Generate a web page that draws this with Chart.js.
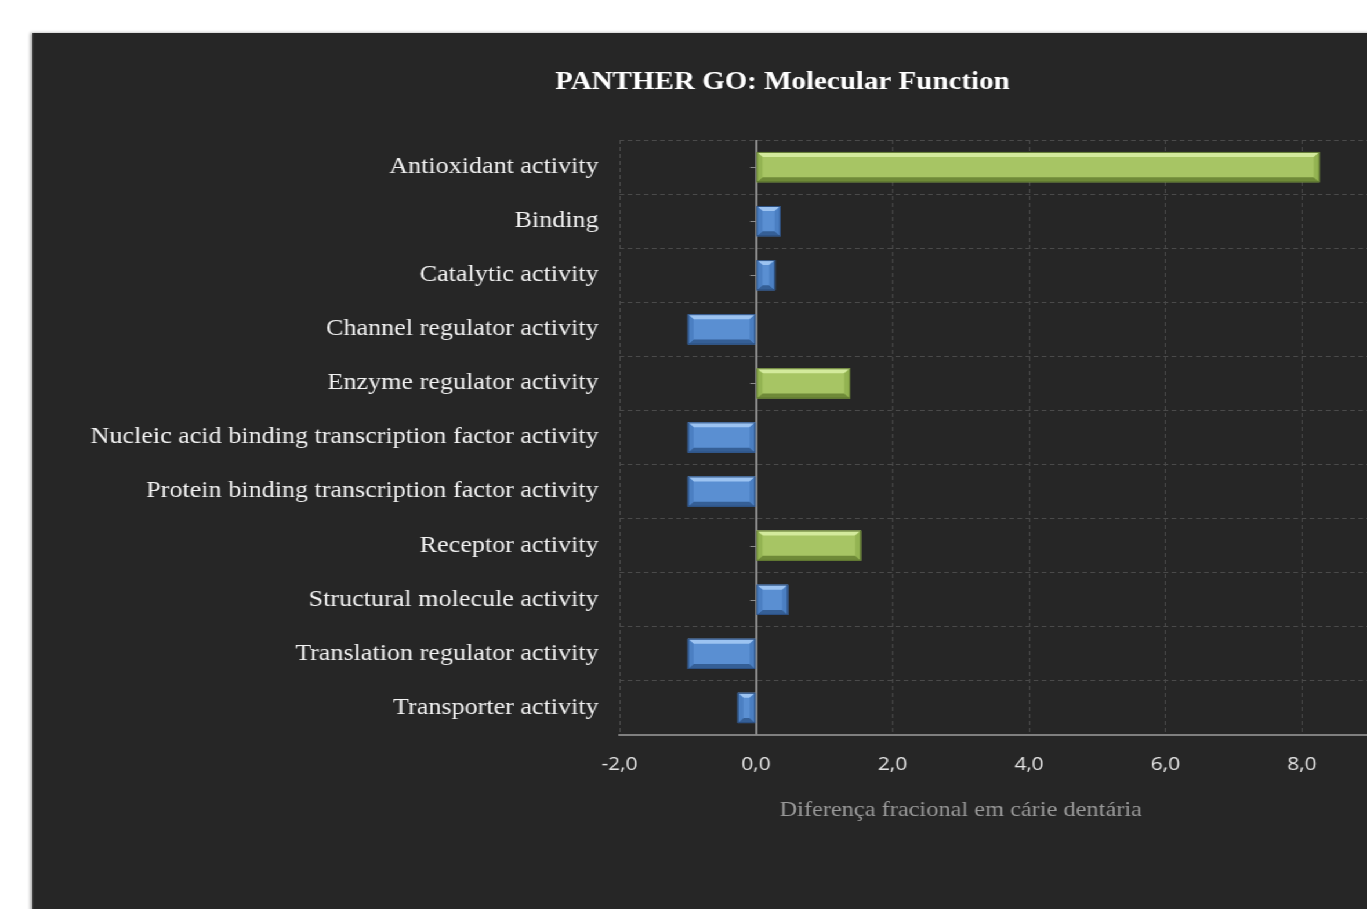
<!DOCTYPE html>
<html>
<head>
<meta charset="utf-8">
<title>PANTHER GO: Molecular Function</title>
<script src="https://cdn.jsdelivr.net/npm/chart.js@4"></script>
<style>
  html, body { margin: 0; padding: 0; background: #fff; overflow: hidden; width: 1367px; height: 909px; }
  /* the source picture is a horizontally stretched screenshot */
  #stage { position: absolute; left: 0; top: 0; transform: scaleX(1.16); transform-origin: 0 0; }
  #panel {
    position: absolute; left: 28.45px; top: 33px;
    width: 1300px; height: 900px;
    background: #262626;
    box-shadow: -2px 0 3px rgba(0,0,0,0.35);
  }
  #chart { display: block; }
</style>
</head>
<body>
<div id="stage"><div id="panel"><canvas id="chart" width="1300" height="876"></canvas></div></div>
<script>
// ── Data ──────────────────────────────────────────────────────────────
const categories = [
  'Antioxidant activity',
  'Binding',
  'Catalytic activity',
  'Channel regulator activity',
  'Enzyme regulator activity',
  'Nucleic acid binding transcription factor activity',
  'Protein binding transcription factor activity',
  'Receptor activity',
  'Structural molecule activity',
  'Translation regulator activity',
  'Transporter activity',
];
const values   = [8.26, 0.36, 0.28, -1.0, 1.38, -1.0, -1.0, 1.54, 0.47, -1.0, -0.27];
const enriched = [true, false, false, false, true, false, false, true, false, false, false];
const xTicks   = [-2, 0, 2, 4, 6, 8, 10];

const chartTitle = 'PANTHER GO: Molecular Function';
const axisTitle  = 'Diferença fracional em cárie dentária';

// ── Styles ────────────────────────────────────────────────────────────
const green = { face: '#a7c564', top: '#d3ea9c', side: '#93b352', bottom: '#6f8a38', edge: '#5d7530' };
const blue  = { face: '#5a8fd2', top: '#9cc3f1', side: '#4b7fc2', bottom: '#355f96', edge: '#2c4f80' };
const serif = '"Liberation Serif", "Times New Roman", serif';
const gridCol = '#4a4a4a';

const fmt = v => v.toFixed(1).replace('.', ',');

// long category labels overrun the padded y-axis box: widen its clip area to the canvas edge
const labelRoomPlugin = {
  id: 'labelRoom',
  afterLayout(chart) {
    const ys = chart.scales.y;
    ys.left = 0;
  }
};

// Excel-style bevel drawn over each bar, using the bar element geometry
const bevelPlugin = {
  id: 'bevel',
  afterDatasetsDraw(chart) {
    const ctx = chart.ctx;
    const meta = chart.getDatasetMeta(0);
    const zero = chart.scales.x.getPixelForValue(0);
    ctx.save();
    // small tick marks on the zero axis
    ctx.strokeStyle = '#8c8c8c';
    ctx.lineWidth = 1;
    meta.data.forEach(bar => {
      ctx.beginPath();
      ctx.moveTo(zero - 5, Math.round(bar.y) + 0.5);
      ctx.lineTo(zero, Math.round(bar.y) + 0.5);
      ctx.stroke();
    });
    meta.data.forEach((bar, i) => {
      const c = enriched[i] ? green : blue;
      const l = Math.min(bar.x, bar.base), r = Math.max(bar.x, bar.base);
      const t = bar.y - bar.height / 2, b = bar.y + bar.height / 2;
      const bv = Math.min(5, (r - l) / 2, (b - t) / 2);
      const poly = (pts, fill) => {
        ctx.beginPath();
        ctx.moveTo(pts[0][0], pts[0][1]);
        pts.slice(1).forEach(p => ctx.lineTo(p[0], p[1]));
        ctx.closePath();
        ctx.fillStyle = fill;
        ctx.fill();
      };
      poly([[l, t], [r, t], [r - bv, t + bv], [l + bv, t + bv]], c.top);
      poly([[l, b], [r, b], [r - bv, b - bv], [l + bv, b - bv]], c.bottom);
      poly([[l, t], [l + bv, t + bv], [l + bv, b - bv], [l, b]], c.side);
      poly([[r, t], [r - bv, t + bv], [r - bv, b - bv], [r, b]], c.side);
      ctx.strokeStyle = c.edge;
      ctx.lineWidth = 1;
      ctx.strokeRect(l + 0.5, t + 0.5, r - l - 1, b - t - 1);
    });
    ctx.restore();
  },
  afterDraw(chart) {
    const ctx = chart.ctx;
    const xs = chart.scales.x;
    ctx.save();
    ctx.font = '21px ' + serif;
    ctx.fillStyle = '#9a9a9a';
    ctx.textAlign = 'center';
    ctx.textBaseline = 'middle';
    ctx.fillText(axisTitle, xs.getPixelForValue(3), 777);
    ctx.restore();
  }
};

// zero line drawn solid above the dashed grid
const zeroLinePlugin = {
  id: 'zeroLine',
  beforeDatasetsDraw(chart) {
    const { ctx, chartArea } = chart;
    const x = Math.round(chart.scales.x.getPixelForValue(0));
    ctx.save();
    ctx.strokeStyle = '#8c8c8c';
    ctx.lineWidth = 2;
    ctx.beginPath();
    ctx.moveTo(x, chartArea.top);
    ctx.lineTo(x, chartArea.bottom);
    ctx.stroke();
    ctx.restore();
  }
};

new Chart(document.getElementById('chart'), {
  type: 'bar',
  data: {
    labels: categories,
    datasets: [{
      data: values,
      backgroundColor: enriched.map(e => e ? green.face : blue.face),
      borderWidth: 0,
      barPercentage: 0.56,
      categoryPercentage: 1.0,
    }]
  },
  options: {
    indexAxis: 'y',
    responsive: false,
    animation: false,
    layout: { padding: { left: 81, right: 88, top: 0, bottom: 84 } },
    plugins: {
      legend: { display: false },
      tooltip: { enabled: false },
      title: {
        display: true,
        text: chartTitle,
        color: '#ffffff',
        font: { family: serif, size: 25, weight: 'bold', lineHeight: 1.2 },
        padding: { top: 35, bottom: 42 },
      },
    },
    scales: {
      x: {
        type: 'linear',
        min: -2, max: 10,
        afterBuildTicks: s => { s.ticks = xTicks.map(v => ({ value: v })); },
        afterFit: s => { s.height = 90; },
        ticks: {
          color: '#e6e6e6',
          font: { family: '"Open Sans", "Noto Sans", sans-serif', size: 18 },
          padding: 19,
          callback: v => fmt(v),
        },
        grid: {
          color: gridCol,
          lineWidth: 1,
          drawTicks: false,
        },
        border: { display: true, color: '#7f7f7f', width: 2, dash: [4, 3] },
      },
      y: {
        afterFit: s => { s.width = 425; },
        ticks: {
          color: '#f2f2f2',
          font: { family: serif, size: 22.5 },
          padding: 18,
        },
        grid: {
          color: gridCol,
          lineWidth: 1,
          drawTicks: false,
          offset: true,
        },
        border: { display: false, dash: [4, 3] },
      },
    },
  },
  plugins: [labelRoomPlugin, zeroLinePlugin, bevelPlugin],
});
</script>
</body>
</html>
